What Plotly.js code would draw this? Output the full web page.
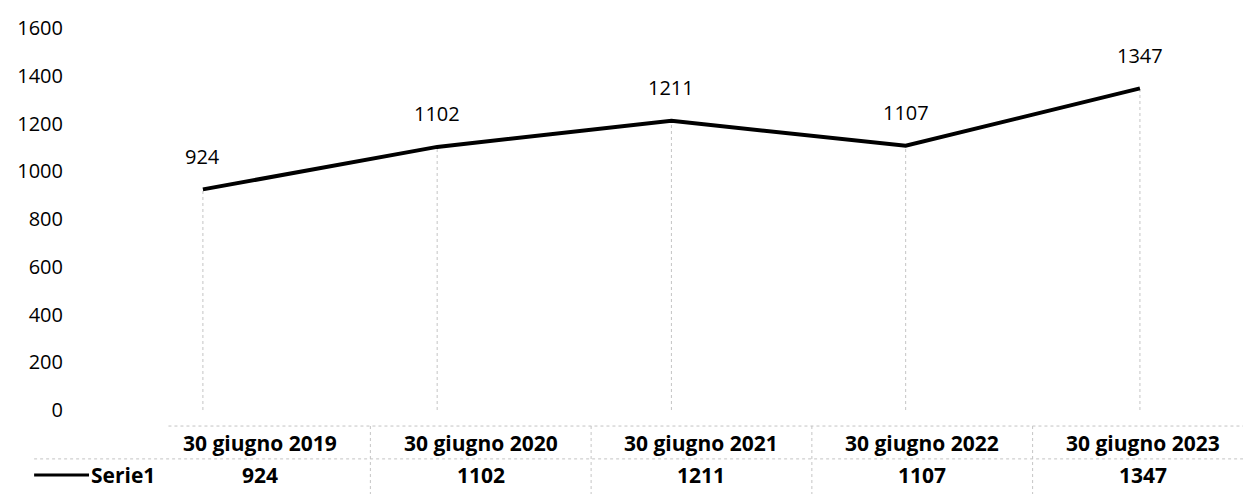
<!DOCTYPE html>
<html><head><meta charset="utf-8">
<script src="https://cdn.plot.ly/plotly-3.0.1.min.js"></script>
<style>html,body{margin:0;padding:0;background:#fff}#chart{width:1248px;height:494px}</style>
</head><body><div id="chart"></div>
<script>
const categories = ["30 giugno 2019","30 giugno 2020","30 giugno 2021","30 giugno 2022","30 giugno 2023"];
const serie1 = [924, 1102, 1211, 1107, 1347];
const seriesName = "Serie1";
const yTicks = [0,200,400,600,800,1000,1200,1400,1600];

const FONT = "'Open Sans', 'Noto Sans', sans-serif";
const grid = {color:"#c4c4c4", width:1, dash:"dot"};

const shapes = [];
// drop lines from each point to the axis
categories.forEach((c,i)=>{
  shapes.push({type:"line", xref:"x", yref:"y", x0:c, x1:c, y0:0, y1:serie1[i], line:grid, layer:"below"});
});
// table borders
const yTop = -0.042, yMid = -0.128;
shapes.push({type:"line", xref:"paper", yref:"paper", x0:0.08, x1:1.0, y0:yTop, y1:yTop, line:grid});
shapes.push({type:"line", xref:"paper", yref:"paper", x0:-0.035, x1:1.0, y0:yMid, y1:yMid, line:grid});
for (let k=0;k<categories.length-1;k++){
  shapes.push({type:"line", xref:"x2", yref:"paper", x0:k+0.5, x1:k+0.5, y0:yTop, y1:-0.22, line:grid});
}
// legend key line
shapes.push({type:"line", xref:"paper", yref:"paper", x0:-0.035, x1:0.012, y0:-0.17, y1:-0.17, line:{color:"#000", width:3}});

const annotations = [];
categories.forEach((c,i)=>{
  annotations.push({xref:"x", yref:"y", x:c, y:serie1[i], yshift:33, yanchor:"middle", text:String(serie1[i]), showarrow:false,
    font:{family:FONT, size:20, color:"#000"}});
  annotations.push({xref:"x2", yref:"paper", x:c, y:-0.086, yanchor:"middle", text:"<b>"+c+"</b>", showarrow:false,
    font:{family:FONT, size:21, color:"#000"}});
  annotations.push({xref:"x2", yref:"paper", x:c, y:-0.17, yanchor:"middle", text:"<b>"+serie1[i]+"</b>", showarrow:false,
    font:{family:FONT, size:21, color:"#000"}});
});
annotations.push({xref:"paper", yref:"paper", x:0.012, y:-0.17, xanchor:"left", yanchor:"middle", text:"<b>"+seriesName+"</b>", showarrow:false,
  font:{family:FONT, size:21, color:"#000"}});

const data = [{
  type:"scatter", mode:"lines", x:categories, y:serie1, name:seriesName,
  line:{color:"#000", width:4}, hoverinfo:"x+y"
},{
  type:"scatter", mode:"markers", x:categories, y:serie1, xaxis:"x2", yaxis:"y",
  marker:{opacity:0}, showlegend:false, hoverinfo:"skip"
}];

const layout = {
  width:1248, height:494,
  margin:{l:75, r:5, t:28, b:84},
  paper_bgcolor:"#fff", plot_bgcolor:"#fff",
  showlegend:false,
  font:{family:FONT, color:"#000"},
  xaxis:{type:"category", range:[-0.546, 4.44], showticklabels:false, showgrid:false, zeroline:false, showline:false, ticks:""},
  xaxis2:{type:"category", overlaying:"x", range:[-0.838, 4.453], showticklabels:false, showgrid:false, zeroline:false, showline:false, ticks:"", visible:false},
  yaxis:{range:[0,1600], tickvals:yTicks, ticktext:yTicks.map(String), showgrid:false, zeroline:false, showline:false, ticks:"",
    ticklabelstandoff:11, tickfont:{family:FONT, size:20, color:"#000"}},
  shapes:shapes, annotations:annotations
};
Plotly.newPlot("chart", data, layout, {displayModeBar:false, staticPlot:true});
</script></body></html>
